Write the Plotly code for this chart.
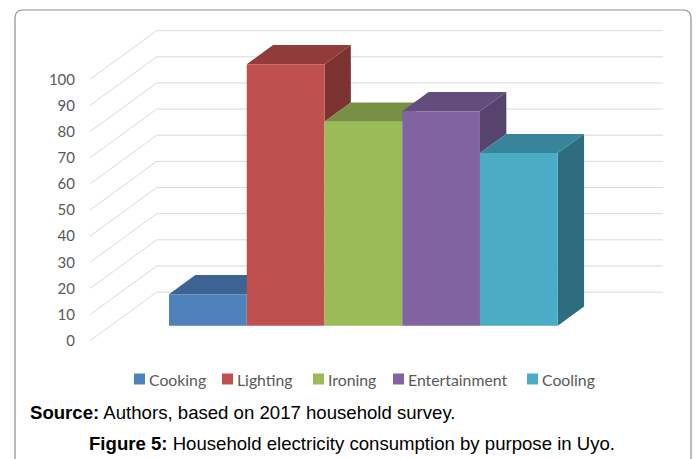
import plotly.graph_objects as go

# ---------------- data ----------------
categories = ["Cooking", "Lighting", "Ironing", "Entertainment", "Cooling"]
values = [12, 100, 78, 82, 66]
y_ticks = [0, 10, 20, 30, 40, 50, 60, 70, 80, 90, 100]

# ---------------- styles ----------------
front_colors = ["#4F81BD", "#C0504D", "#9BBB59", "#8064A2", "#4BACC6"]
top_colors = ["#3C6391", "#913C3A", "#779045", "#634D7D", "#38849A"]
side_colors = ["#33537C", "#7B3230", "#647A3A", "#56436E", "#2E6D7D"]

W, H = 696, 459
ML, MR, MT, MB = 90, 33, 20, 109
X_RANGE = [-1.516, 5.854]
Y_RANGE = [-9.29, 116.9]

# oblique-projection geometry (axis units)
DX = 0.858      # x shift for full wall depth
DY = 18.6       # value shift for full wall depth
F = 0.31        # depth of bar front plane
BD = 0.395      # bar depth
WALL_L = -1.25
WALL_R = 5.26

# legend entry positions (px) and size
LEGEND_X = [134, 222, 313, 393, 527]
LEGEND_Y = 379
SQ = 11


def proj(x, v, d):
    return x + (d - F) * DX, v + (d - F) * DY


def path(points):
    return "M " + " L ".join(f"{x:.4f},{y:.4f}" for x, y in points) + " Z"


def open_path(points):
    return "M " + " L ".join(f"{x:.4f},{y:.4f}" for x, y in points)


pw = W - ML - MR
ph = H - MT - MB


def px_x(px):
    return (px - ML) / pw


def px_y(py):
    return (H - MB - py) / ph


fig = go.Figure()
shapes = []
annotations = []

# back + side wall gridlines
for v in y_ticks:
    pts = [proj(WALL_L, v, 0), proj(WALL_L, v, 1), proj(WALL_R, v, 1)]
    shapes.append(dict(type="path", path=open_path(pts), xref="x", yref="y",
                       line=dict(color="#D9D9D9", width=1), layer="below"))

# bars: front faces as bar traces, top and side faces as shapes
for i, (cat, v) in enumerate(zip(categories, values)):
    fig.add_trace(go.Bar(
        x=[i], y=[v], width=1.0, name=cat,
        marker=dict(color=front_colors[i], line=dict(width=0)),
        hoverinfo="name+y", showlegend=False,
    ))
    nxt = values[i + 1] if i + 1 < len(values) else 0
    h0 = min(max(nxt, 0), v)
    if h0 < v:
        side = [proj(i + 0.5, h0, F), proj(i + 0.5, v, F),
                proj(i + 0.5, v, F + BD), proj(i + 0.5, h0, F + BD)]
        shapes.append(dict(type="path", path=path(side), xref="x", yref="y",
                           fillcolor=side_colors[i], line=dict(width=0), layer="below"))
    top = [proj(i - 0.5, v, F), proj(i + 0.5, v, F),
           proj(i + 0.5, v, F + BD), proj(i - 0.5, v, F + BD)]
    shapes.append(dict(type="path", path=path(top), xref="x", yref="y",
                       fillcolor=top_colors[i], line=dict(width=0), layer="below"))

    # legend entry
    lx = LEGEND_X[i]
    shapes.append(dict(type="rect", xref="paper", yref="paper",
                       x0=px_x(lx), x1=px_x(lx + SQ),
                       y0=px_y(LEGEND_Y + SQ / 2), y1=px_y(LEGEND_Y - SQ / 2),
                       fillcolor=front_colors[i], line=dict(width=0), layer="above"))
    annotations.append(dict(text=cat, xref="paper", yref="paper",
                            x=px_x(lx + SQ + 1.5), y=px_y(LEGEND_Y),
                            xanchor="left", yanchor="middle", showarrow=False,
                            font=dict(family="Lato", size=15.8, color="#595959")))

# outer frame with rounded top corners
r = 8
fx0, fx1, fy0, fy1 = 15, 691, 10, 480
frame = (f"M {px_x(fx0):.5f},{px_y(fy1):.5f} L {px_x(fx0):.5f},{px_y(fy0 + r):.5f} "
         f"Q {px_x(fx0):.5f},{px_y(fy0):.5f} {px_x(fx0 + r):.5f},{px_y(fy0):.5f} "
         f"L {px_x(fx1 - r):.5f},{px_y(fy0):.5f} "
         f"Q {px_x(fx1):.5f},{px_y(fy0):.5f} {px_x(fx1):.5f},{px_y(fy0 + r):.5f} "
         f"L {px_x(fx1):.5f},{px_y(fy1):.5f}")
shapes.append(dict(type="path", path=frame, xref="paper", yref="paper",
                   line=dict(color="#8E8E8E", width=1.2), layer="above"))

annotations += [
    dict(text="<b>Source:</b> Authors, based on 2017 household survey.",
         xref="paper", yref="paper", x=px_x(28), y=px_y(412),
         xanchor="left", yanchor="middle", showarrow=False,
         font=dict(family="Liberation Sans", size=18.6, color="#000000")),
    dict(text="<b>Figure 5:</b> Household electricity consumption by purpose in Uyo.",
         xref="paper", yref="paper", x=px_x(352), y=px_y(443),
         xanchor="center", yanchor="middle", showarrow=False,
         font=dict(family="Liberation Sans", size=18.6, color="#000000")),
]

tick_pos = [proj(WALL_L, v, 0)[1] for v in y_ticks]

fig.update_layout(
    width=W, height=H,
    margin=dict(l=ML, r=MR, t=MT, b=MB),
    paper_bgcolor="white", plot_bgcolor="white",
    barmode="overlay",
    shapes=shapes,
    annotations=annotations,
    showlegend=False,
    xaxis=dict(range=X_RANGE, visible=False, fixedrange=True),
    yaxis=dict(range=Y_RANGE, tickvals=tick_pos, ticktext=[str(v) for v in y_ticks],
               showgrid=False, zeroline=False, showline=False, ticks="",
               ticklabelstandoff=14,
               tickfont=dict(family="Lato", size=15, color="#595959"), fixedrange=True),
)

fig.write_html("out.html", config={"displayModeBar": False},
               post_script="document.body.style.margin='0px';")
